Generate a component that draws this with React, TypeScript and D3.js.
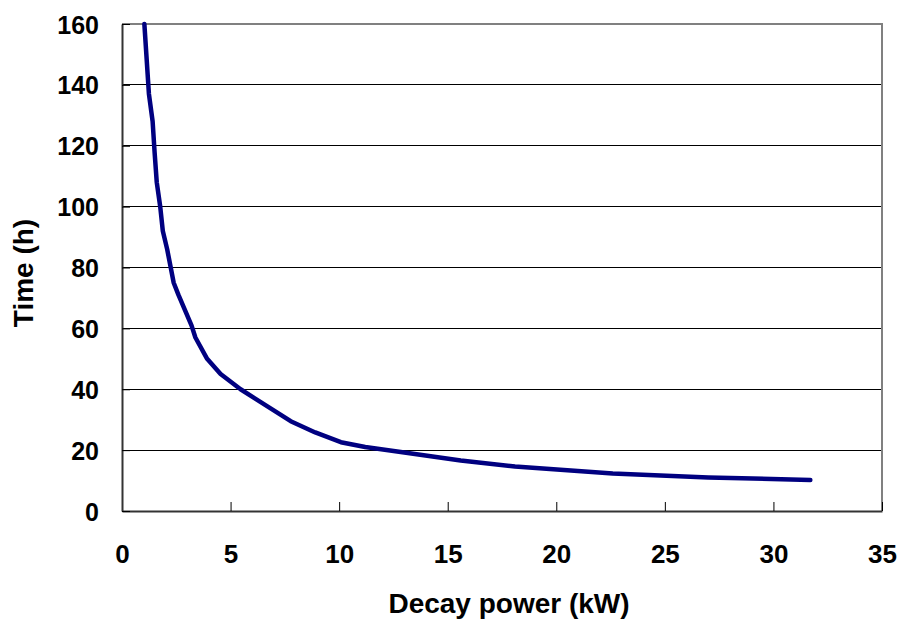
import React, { useEffect, useRef } from 'react'
import * as d3 from 'd3'

// decay power (kW) vs time (h)
const power = [1.03, 1.24, 1.41, 1.5, 1.6, 1.76, 1.88, 2.08, 2.38, 2.6, 3.2, 3.38, 3.92, 4.54, 5.46, 7.77, 8.9, 10.08, 11.2, 13.0, 15.6, 18.1, 22.6, 27.0, 31.7]
const time = [160, 137, 128, 118, 108, 100, 92, 86, 75, 71, 61, 57, 50, 45, 40, 29.5, 25.8, 22.6, 21, 19.2, 16.6, 14.6, 12.3, 11, 10.2]
const xTicks = [0, 5, 10, 15, 20, 25, 30, 35]
const yTicks = [0, 20, 40, 60, 80, 100, 120, 140, 160]

const W = 905
const H = 623
const FONT = '"Liberation Sans", Arial, sans-serif'

function App() {
  const ref = useRef<SVGSVGElement>(null)

  useEffect(() => {
    const svg = d3.select(ref.current)
    svg.selectAll('*').remove()

    const left = 122, right = 882, top = 24, bottom = 511

    const x = d3.scaleLinear().domain([0, 35]).range([left, right])
    const y = d3.scaleLinear().domain([0, 160]).range([bottom, top])

    // grid
    svg.append('g')
      .selectAll('line')
      .data(yTicks.filter(t => t > 0 && t < 160))
      .enter()
      .append('line')
      .attr('x1', left)
      .attr('x2', right)
      .attr('y1', d => y(d))
      .attr('y2', d => y(d))
      .attr('stroke', '#000')
      .attr('stroke-width', 1)
      .attr('shape-rendering', 'crispEdges')

    // plot frame: top/right gray
    svg.append('path')
      .attr('d', `M${left},${top}H${right}V${bottom}`)
      .attr('fill', 'none')
      .attr('stroke', '#808080')
      .attr('stroke-width', 2)

    const axisB = d3.axisBottom(x).tickValues(xTicks).tickSizeInner(-9).tickSizeOuter(0).tickFormat(d3.format('d'))
    const axisL = d3.axisLeft(y).tickValues(yTicks).tickSizeInner(-8).tickSizeOuter(0).tickFormat(d3.format('d'))

    const gx = svg.append('g')
      .attr('transform', 'translate(0,' + bottom + ')')
      .call(axisB)
    gx.select('.domain').attr('stroke', '#333').attr('stroke-width', 2)
    gx.selectAll('.tick line').attr('stroke', '#000').attr('stroke-width', 1)
    gx.selectAll('.tick text')
      .attr('y', 52)
      .attr('dy', 0)
      .attr('fill', '#000')
      .style('font-family', FONT)
      .style('font-weight', 'bold')
      .style('font-size', '26px')

    const gy = svg.append('g')
      .attr('transform', 'translate(' + left + ',0)')
      .call(axisL)
    gy.select('.domain').attr('stroke', '#333').attr('stroke-width', 2)
    gy.selectAll('.tick line').attr('stroke', '#000').attr('stroke-width', 1)
    gy.selectAll('.tick text')
      .attr('x', -23)
      .attr('dy', '0.36em')
      .attr('fill', '#000')
      .style('font-family', FONT)
      .style('font-weight', 'bold')
      .style('font-size', '25px')

    svg.append('text')
      .attr('x', 509)
      .attr('y', 613)
      .attr('text-anchor', 'middle')
      .style('font-family', FONT)
      .style('font-weight', 'bold')
      .style('font-size', '28px')
      .text('Decay power (kW)')

    svg.append('text')
      .attr('transform', 'translate(33,273) rotate(-90)')
      .attr('text-anchor', 'middle')
      .style('font-family', FONT)
      .style('font-weight', 'bold')
      .style('font-size', '28px')
      .text('Time (h)')

    const line = d3.line<number>()
      .x((d, i) => x(power[i]))
      .y(d => y(d))

    svg.append('path')
      .datum(time)
      .attr('d', line)
      .attr('fill', 'none')
      .attr('stroke', '#000080')
      .attr('stroke-width', 4.5)
      .attr('stroke-linejoin', 'round')
      .attr('stroke-linecap', 'round')
  }, [])

  return (
    <div>
      <svg ref={ref} width={W} height={H} style={{ position: 'absolute', left: 0, top: 0, background: '#fff' }}></svg>
    </div>
  )
}

export default App
